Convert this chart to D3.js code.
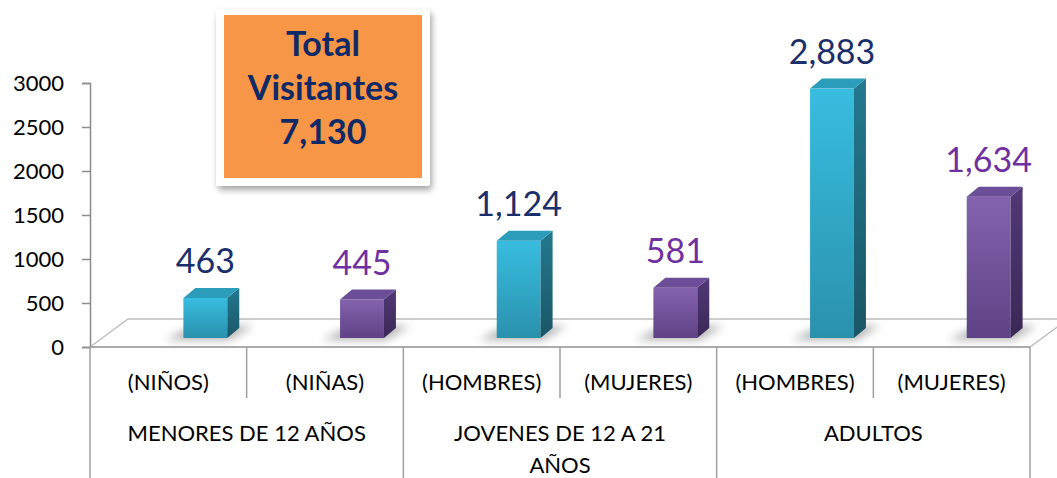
<!DOCTYPE html>
<html>
<head>
<meta charset="utf-8">
<script src="https://cdn.jsdelivr.net/npm/d3@7"></script>
<style>
  body { margin: 0; background: #fff; }
  svg { display: block; font-family: Lato, "Open Sans", sans-serif; }
</style>
</head>
<body>
<div class="chart"></div>
<script>
// data
const groups = ['MENORES DE 12 AÑOS', 'JOVENES DE 12 A 21 AÑOS', 'ADULTOS'];
const sub_labels = ['(NIÑOS)', '(NIÑAS)', '(HOMBRES)', '(MUJERES)', '(HOMBRES)', '(MUJERES)'];
const values = [463, 445, 1124, 581, 2883, 1634];
const series = ['m', 'f', 'm', 'f', 'm', 'f'];
const y_ticks = [0, 500, 1000, 1500, 2000, 2500, 3000];
const total_lines = ['Total', 'Visitantes', '7,130'];

const W = 1057, H = 478;
const svg = d3.select('.chart').append('svg').attr('width', W).attr('height', H);
const defs = svg.append('defs');

const colors = {
  m: { front: ['#38bde0', '#2a91ad'], side: ['#23798f', '#1a5666'], top: '#2b9cba', label: '#1b2f6b' },
  f: { front: ['#8463ae', '#5e4285'], side: ['#523876', '#3a2856'], top: '#6c4d97', label: '#7030a0' }
};
Object.keys(colors).forEach(k => {
  const c = colors[k];
  const g1 = defs.append('linearGradient').attr('id', 'front-' + k).attr('x1', 0).attr('y1', 0).attr('x2', 0).attr('y2', 1);
  g1.append('stop').attr('offset', 0).attr('stop-color', c.front[0]);
  g1.append('stop').attr('offset', 1).attr('stop-color', c.front[1]);
  const g2 = defs.append('linearGradient').attr('id', 'side-' + k).attr('x1', 0).attr('y1', 0).attr('x2', 0).attr('y2', 1);
  g2.append('stop').attr('offset', 0).attr('stop-color', c.side[0]);
  g2.append('stop').attr('offset', 1).attr('stop-color', c.side[1]);
});
defs.append('filter').attr('id', 'blur').attr('x', '-50%').attr('y', '-50%').attr('width', '200%').attr('height', '200%')
  .append('feGaussianBlur').attr('stdDeviation', 4);
const box_shadow = defs.append('filter').attr('id', 'box-shadow').attr('x', '-20%').attr('y', '-20%').attr('width', '140%').attr('height', '140%');
box_shadow.append('feDropShadow').attr('dx', 2).attr('dy', 4).attr('stdDeviation', 3).attr('flood-color', '#000').attr('flood-opacity', 0.35);

// scales
const idx = d3.range(values.length);
const x = d3.scaleBand().domain(idx).range([90, 1030]);
const x_bar = d3.scaleBand().domain(idx).range([127, 1067]).paddingInner(0.72).paddingOuter(0.36);
const y = d3.scaleLinear().domain([0, 3000]).range([347, 83]);
const y_bar = d3.scaleLinear().domain([0, 3000]).range([338, 78.5]);
const depth = { dx: 12, dy: -10 };
const floor = { dx: 38, dy: -28 };

// floor
const x0 = x.range()[0], x1 = x.range()[1];
svg.append('path')
  .attr('d', `M${x0},${y(0)} L${x0 + floor.dx},${y(0) + floor.dy} L${x1 + floor.dx},${y(0) + floor.dy} L${x1},${y(0)} Z`)
  .attr('fill', '#fff').attr('stroke', '#bfbfbf').attr('stroke-width', 1.5);

// y axis
const y_axis = d3.axisLeft(y).tickValues(y_ticks).tickSize(8).tickPadding(18).tickFormat(d3.format('d'));
const y_axis_group = svg.append('g').attr('transform', `translate(${x0},0)`).call(y_axis);
y_axis_group.select('.domain').attr('stroke', '#8c8c8c').attr('stroke-width', 1.5);
y_axis_group.selectAll('.tick line').attr('stroke', '#8c8c8c').attr('stroke-width', 1.5);
y_axis_group.selectAll('.tick text').attr('font-size', 22).attr('fill', '#000').attr('font-family', 'Lato, sans-serif');

// category axis lines
const cat = svg.append('g').attr('stroke', '#a0a0a0').attr('stroke-width', 1.5);
cat.append('line').attr('x1', x0).attr('x2', x1).attr('y1', y(0)).attr('y2', y(0));
idx.concat([values.length]).forEach(i => {
  const bx = i < values.length ? x(i) : x1;
  const long = i % 2 === 0;
  cat.append('line').attr('x1', bx).attr('x2', bx).attr('y1', y(0)).attr('y2', long ? H : 398);
});

// sub labels
svg.append('g').selectAll('text').data(sub_labels).join('text')
  .attr('x', (d, i) => x(i) + x.bandwidth() / 2)
  .attr('y', 390)
  .attr('text-anchor', 'middle').attr('font-size', 22).attr('fill', '#000')
  .text(d => d);

// group labels (wrap long ones)
const group_lines = groups.map(g => g.length > 20 ? [g.slice(0, g.lastIndexOf(' ')), g.slice(g.lastIndexOf(' ') + 1)] : [g]);
svg.append('g').selectAll('text').data(group_lines).join('text')
  .attr('x', (d, i) => x(i * 2) + x.bandwidth())
  .attr('y', 441)
  .attr('text-anchor', 'middle').attr('font-size', 22).attr('fill', '#000')
  .selectAll('tspan').data(d => d).join('tspan')
  .attr('x', function () { return d3.select(this.parentNode).attr('x'); })
  .attr('dy', (d, i) => i === 0 ? 0 : 32)
  .text(d => d);

// bars
const bars = svg.append('g').selectAll('g').data(values).join('g');
bars.each(function (v, i) {
  const g = d3.select(this);
  const k = series[i];
  const bx = x_bar(i), bw = x_bar.bandwidth();
  const top = y_bar(v), base = y_bar(0);
  // shadow on the floor
  g.append('path')
    .attr('d', `M${bx - 18},${base + 2} L${bx + bw + 2},${base + 2} L${bx + bw + 26},${base - 12} L${bx + 10},${base - 12} Z`)
    .attr('fill', '#7f7f7f').attr('opacity', 0.6).attr('filter', 'url(#blur)');
  g.append('rect').attr('x', bx).attr('y', top).attr('width', bw).attr('height', base - top)
    .attr('fill', `url(#front-${k})`);
  g.append('path')
    .attr('d', `M${bx + bw},${top} L${bx + bw + depth.dx},${top + depth.dy} L${bx + bw + depth.dx},${base + depth.dy} L${bx + bw},${base} Z`)
    .attr('fill', `url(#side-${k})`);
  g.append('path')
    .attr('d', `M${bx},${top} L${bx + depth.dx},${top + depth.dy} L${bx + bw + depth.dx},${top + depth.dy} L${bx + bw},${top} Z`)
    .attr('fill', colors[k].top);
  g.append('text')
    .attr('x', bx + bw / 2).attr('y', top - 25)
    .attr('text-anchor', 'middle').attr('font-size', 34)
    .attr('fill', colors[k].label)
    .text(d3.format(',')(v));
});

// total box
const box = svg.append('g');
box.append('rect').attr('x', 216).attr('y', 9).attr('width', 214).attr('height', 177)
  .attr('fill', '#fff').attr('rx', 3).attr('filter', 'url(#box-shadow)');
box.append('rect').attr('x', 224).attr('y', 15).attr('width', 198).attr('height', 163).attr('fill', '#f79646');
box.selectAll('text').data(total_lines).join('text')
  .attr('x', 323).attr('y', (d, i) => 56 + i * 44)
  .attr('text-anchor', 'middle').attr('font-size', 34).attr('font-weight', 'bold').attr('fill', '#0f2a66')
  .text(d => d);
</script>
</body>
</html>
